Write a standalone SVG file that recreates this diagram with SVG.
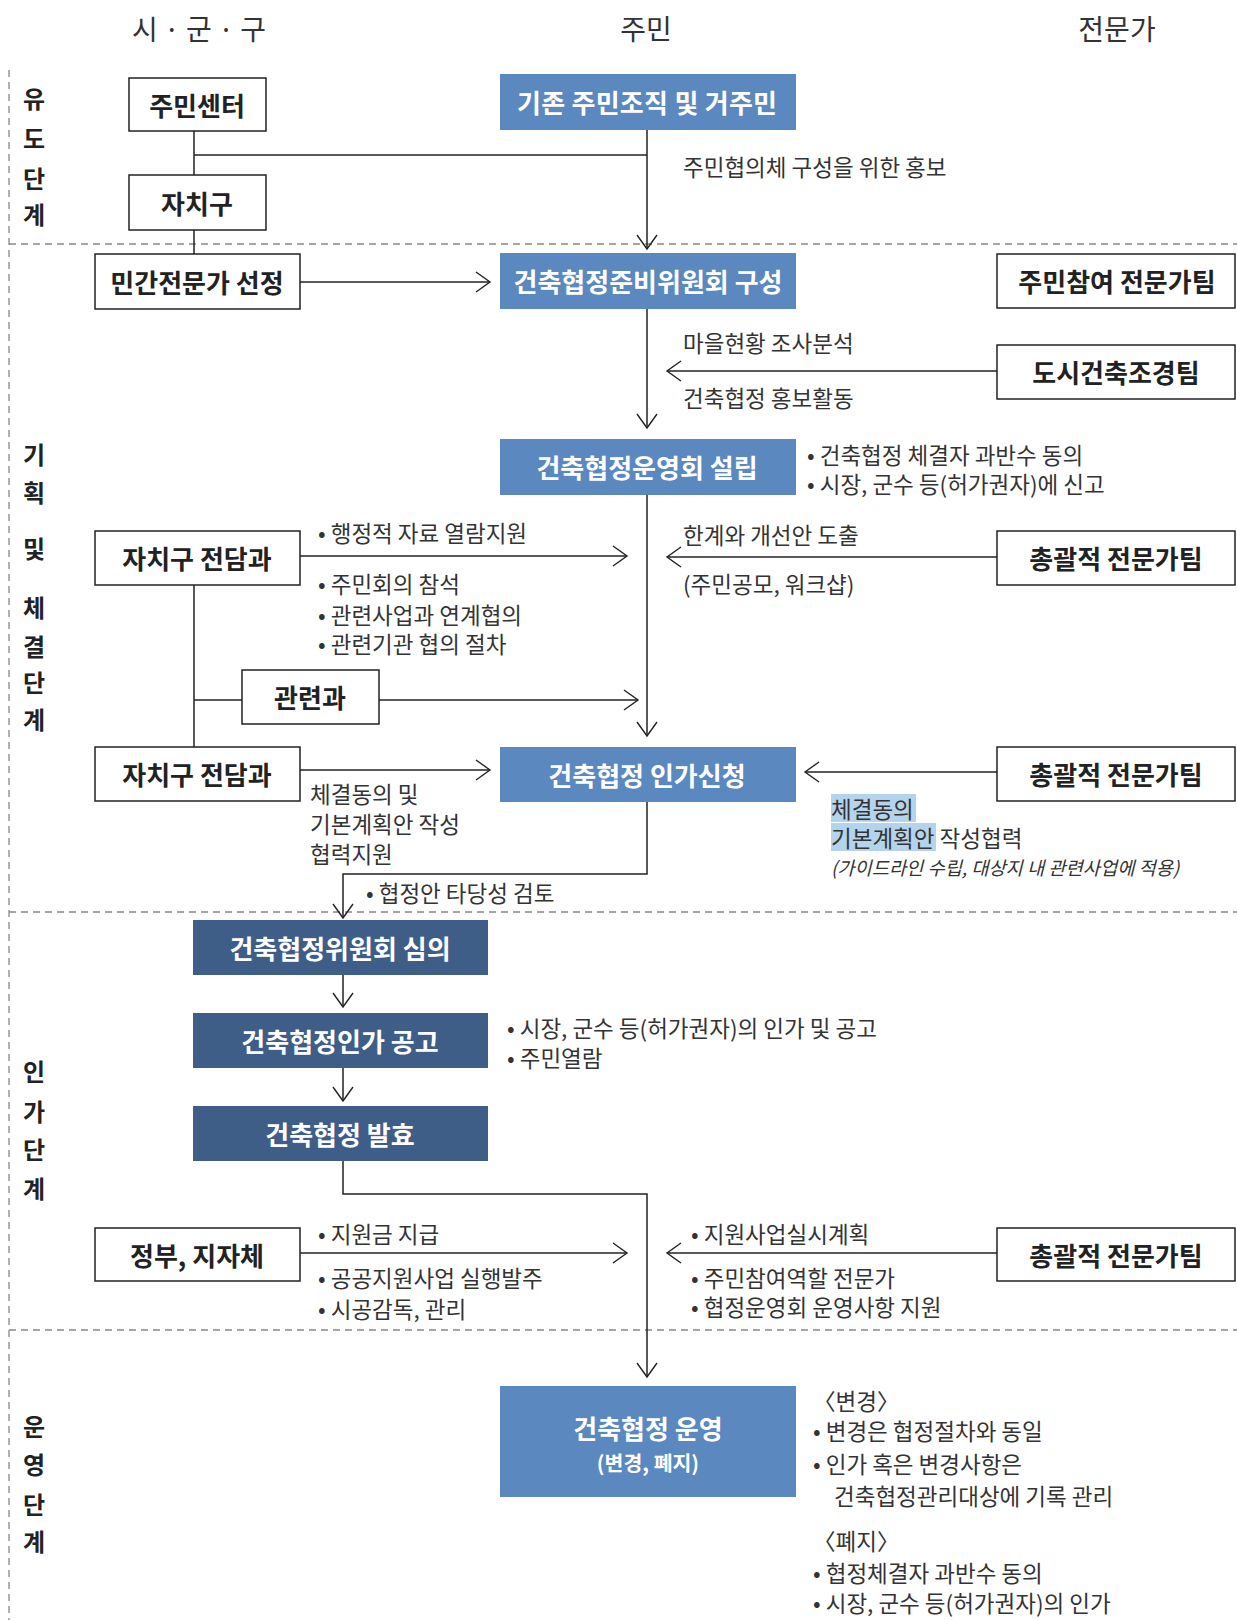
<svg xmlns="http://www.w3.org/2000/svg" width="1237" height="1620" viewBox="0 0 1237 1620">
<style>
text{font-family:"Noto Sans CJK KR","Noto Sans",sans-serif;dominant-baseline:central}
.box{fill:#fff;stroke:#222;stroke-width:1.5}
.blue{fill:#5b88bf}
.navy{fill:#3e5e88}
.bt{font-size:26px;font-weight:700;fill:#fff;text-anchor:middle}
.wt{font-size:26px;font-weight:700;fill:#222;text-anchor:middle}
.sub{font-size:20.5px;font-weight:700;fill:#fff;text-anchor:middle}
.ann{font-size:22.5px;fill:#333}
.it{font-size:18.7px;fill:#333;font-style:italic}
.hdr{font-size:28px;fill:#333;text-anchor:middle}
.stg{font-size:24px;font-weight:700;fill:#222;text-anchor:middle}
.conn{stroke:#222;stroke-width:1.5;fill:none}
.dash{stroke:#888;stroke-width:1.3;stroke-dasharray:7 5;fill:none}
.hl{fill:#b4d3ec}
</style>
<defs>
<marker id="arr" markerUnits="userSpaceOnUse" markerWidth="18" markerHeight="24" refX="15" refY="11" orient="auto">
<path d="M1,1 L15,11 L1,21" fill="none" stroke="#222" stroke-width="1.4"/>
</marker>
</defs>
<rect width="1237" height="1620" fill="#fff"/>

<g id="dividers">
<line class="dash" x1="9" y1="70" x2="9" y2="1620"/>
<line class="dash" x1="9" y1="244" x2="1237" y2="244"/>
<line class="dash" x1="9" y1="912" x2="1237" y2="912"/>
<line class="dash" x1="9" y1="1330" x2="1237" y2="1330"/>
</g>

<g id="headers">
<text class="hdr" x="199" y="28" textLength="134">시·군·구</text>
<text class="hdr" x="646" y="28">주민</text>
<text class="hdr" x="1117" y="28">전문가</text>
</g>

<g id="stages">
<text class="stg" x="34" y="97">유</text>
<text class="stg" x="34" y="137">도</text>
<text class="stg" x="34" y="177">단</text>
<text class="stg" x="34" y="213">계</text>
<text class="stg" x="34" y="453">기</text>
<text class="stg" x="34" y="491">획</text>
<text class="stg" x="34" y="547">및</text>
<text class="stg" x="34" y="606">체</text>
<text class="stg" x="34" y="645">결</text>
<text class="stg" x="34" y="681">단</text>
<text class="stg" x="34" y="718">계</text>
<text class="stg" x="34" y="1070">인</text>
<text class="stg" x="34" y="1110">가</text>
<text class="stg" x="34" y="1148">단</text>
<text class="stg" x="34" y="1187">계</text>
<text class="stg" x="34" y="1425">운</text>
<text class="stg" x="34" y="1463">영</text>
<text class="stg" x="34" y="1503">단</text>
<text class="stg" x="34" y="1540">계</text>
</g>

<g id="connectors">
<line class="conn" x1="194" y1="131" x2="194" y2="175"/>
<line class="conn" x1="194" y1="230" x2="194" y2="254"/>
<line class="conn" x1="194" y1="155" x2="647" y2="155"/>
<line class="conn" x1="647" y1="130" x2="647" y2="249" marker-end="url(#arr)"/>
<line class="conn" x1="300" y1="282" x2="490" y2="282" marker-end="url(#arr)"/>
<line class="conn" x1="647" y1="309" x2="647" y2="428" marker-end="url(#arr)"/>
<line class="conn" x1="997" y1="371" x2="667" y2="371" marker-end="url(#arr)"/>
<line class="conn" x1="647" y1="495" x2="647" y2="736" marker-end="url(#arr)"/>
<line class="conn" x1="300" y1="556" x2="627" y2="556" marker-end="url(#arr)"/>
<line class="conn" x1="997" y1="557" x2="667" y2="557" marker-end="url(#arr)"/>
<line class="conn" x1="194" y1="585" x2="194" y2="747"/>
<line class="conn" x1="194" y1="700" x2="242" y2="700"/>
<line class="conn" x1="379" y1="700" x2="638" y2="700" marker-end="url(#arr)"/>
<line class="conn" x1="300" y1="770" x2="490" y2="770" marker-end="url(#arr)"/>
<line class="conn" x1="997" y1="772" x2="805" y2="772" marker-end="url(#arr)"/>
<polyline class="conn" points="647,802 647,874 343,874 343,918" marker-end="url(#arr)"/>
<line class="conn" x1="343" y1="975" x2="343" y2="1007" marker-end="url(#arr)"/>
<line class="conn" x1="343" y1="1068" x2="343" y2="1101" marker-end="url(#arr)"/>
<polyline class="conn" points="343,1161 343,1194 647,1194 647,1377" marker-end="url(#arr)"/>
<line class="conn" x1="300" y1="1253" x2="627" y2="1253" marker-end="url(#arr)"/>
<line class="conn" x1="997" y1="1253" x2="667" y2="1253" marker-end="url(#arr)"/>
</g>

<g id="n-jumin-center"><rect class="box" x="129" y="78" width="137" height="53"/><text class="wt" x="197" y="104">주민센터</text></g>
<g id="n-jachigu"><rect class="box" x="129" y="175" width="137" height="55"/><text class="wt" x="197" y="202">자치구</text></g>
<g id="n-expert-select"><rect class="box" x="95" y="254" width="205" height="55"/><text class="wt" x="197" y="281">민간전문가 선정</text></g>
<g id="n-existing"><rect class="blue" x="500" y="74" width="296" height="56"/><text class="bt" x="647" y="101" textLength="260">기존 주민조직 및 거주민</text></g>
<g id="n-prep"><rect class="blue" x="500" y="253" width="296" height="56"/><text class="bt" x="648" y="280">건축협정준비위원회 구성</text></g>
<g id="n-participation-team"><rect class="box" x="997" y="254" width="238" height="54"/><text class="wt" x="1117" y="280">주민참여 전문가팀</text></g>
<g id="n-urban-team"><rect class="box" x="997" y="345" width="238" height="54"/><text class="wt" x="1116" y="371">도시건축조경팀</text></g>
<g id="n-operating"><rect class="blue" x="500" y="439" width="296" height="56"/><text class="bt" x="647" y="466">건축협정운영회 설립</text></g>
<g id="n-dept1"><rect class="box" x="95" y="531" width="205" height="54"/><text class="wt" x="197" y="557">자치구 전담과</text></g>
<g id="n-general-team1"><rect class="box" x="997" y="531" width="238" height="54"/><text class="wt" x="1116" y="557">총괄적 전문가팀</text></g>
<g id="n-related"><rect class="box" x="242" y="670" width="137" height="54"/><text class="wt" x="310" y="696">관련과</text></g>
<g id="n-dept2"><rect class="box" x="95" y="747" width="205" height="54"/><text class="wt" x="197" y="773">자치구 전담과</text></g>
<g id="n-application"><rect class="blue" x="500" y="747" width="296" height="55"/><text class="bt" x="647" y="774">건축협정 인가신청</text></g>
<g id="n-general-team2"><rect class="box" x="997" y="747" width="238" height="54"/><text class="wt" x="1116" y="773">총괄적 전문가팀</text></g>
<g id="n-review"><rect class="navy" x="193" y="920" width="295" height="55"/><text class="bt" x="340" y="947">건축협정위원회 심의</text></g>
<g id="n-notice"><rect class="navy" x="193" y="1013" width="295" height="55"/><text class="bt" x="340" y="1040">건축협정인가 공고</text></g>
<g id="n-effect"><rect class="navy" x="193" y="1106" width="295" height="55"/><text class="bt" x="340" y="1133">건축협정 발효</text></g>
<g id="n-gov"><rect class="box" x="95" y="1228" width="205" height="53"/><text class="wt" x="197" y="1254">정부, 지자체</text></g>
<g id="n-general-team3"><rect class="box" x="997" y="1228" width="238" height="53"/><text class="wt" x="1116" y="1254">총괄적 전문가팀</text></g>
<g id="n-operation"><rect class="blue" x="500" y="1386" width="296" height="111"/><text class="bt" x="648" y="1427">건축협정 운영</text><text class="sub" x="648" y="1462">(변경, 폐지)</text></g>

<g id="annotations">
<text class="ann" x="683" y="166">주민협의체 구성을 위한 홍보</text>
<text class="ann" x="683" y="342">마을현황 조사분석</text>
<text class="ann" x="683" y="397">건축협정 홍보활동</text>
<text class="ann" x="807" y="454">• 건축협정 체결자 과반수 동의</text>
<text class="ann" x="807" y="483">• 시장, 군수 등(허가권자)에 신고</text>
<text class="ann" x="318" y="532">• 행정적 자료 열람지원</text>
<text class="ann" x="683" y="534">한계와 개선안 도출</text>
<text class="ann" x="318" y="583">• 주민회의 참석</text>
<text class="ann" x="683" y="583">(주민공모, 워크샵)</text>
<text class="ann" x="318" y="614">• 관련사업과 연계협의</text>
<text class="ann" x="318" y="643">• 관련기관 협의 절차</text>
<text class="ann" x="310" y="793">체결동의 및</text>
<text class="ann" x="310" y="823">기본계획안 작성</text>
<text class="ann" x="310" y="853">협력지원</text>
<rect class="hl" x="831" y="794" width="85" height="28"/>
<rect class="hl" x="831" y="823" width="105" height="28"/>
<text class="ann" x="831" y="808">체결동의</text>
<text class="ann" x="831" y="837">기본계획안 작성협력</text>
<text class="it" x="831" y="866">(가이드라인 수립, 대상지 내 관련사업에 적용)</text>
<text class="ann" x="366" y="892">• 협정안 타당성 검토</text>
<text class="ann" x="507" y="1027">• 시장, 군수 등(허가권자)의 인가 및 공고</text>
<text class="ann" x="507" y="1057">• 주민열람</text>
<text class="ann" x="318" y="1233">• 지원금 지급</text>
<text class="ann" x="318" y="1277">• 공공지원사업 실행발주</text>
<text class="ann" x="318" y="1308">• 시공감독, 관리</text>
<text class="ann" x="691" y="1233">• 지원사업실시계획</text>
<text class="ann" x="691" y="1277">• 주민참여역할 전문가</text>
<text class="ann" x="691" y="1306">• 협정운영회 운영사항 지원</text>
<text class="ann" x="813" y="1400">〈변경〉</text>
<text class="ann" x="813" y="1430">• 변경은 협정절차와 동일</text>
<text class="ann" x="813" y="1463">• 인가 혹은 변경사항은</text>
<text class="ann" x="834" y="1495">건축협정관리대상에 기록 관리</text>
<text class="ann" x="813" y="1540">〈폐지〉</text>
<text class="ann" x="813" y="1572">• 협정체결자 과반수 동의</text>
<text class="ann" x="813" y="1602">• 시장, 군수 등(허가권자)의 인가</text>
</g>
</svg>
